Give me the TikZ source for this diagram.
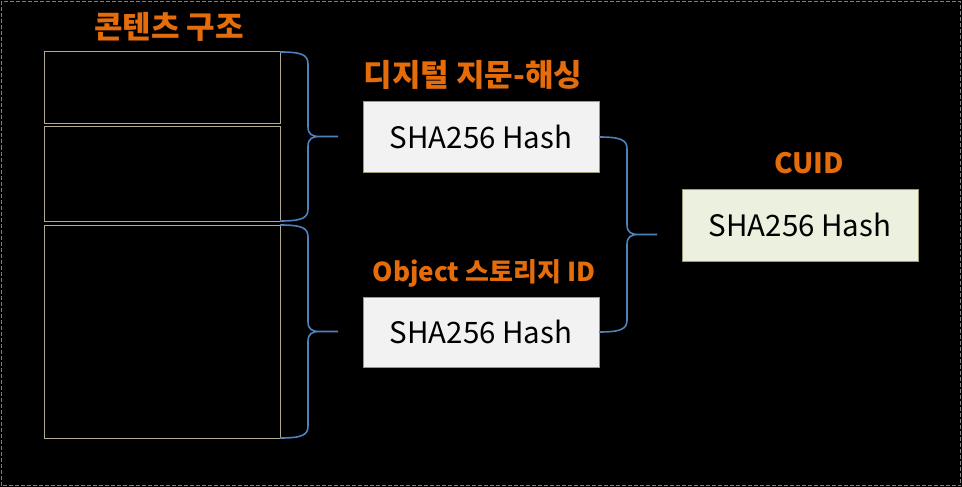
\documentclass[tikz,border=0pt]{standalone}
\usepackage{fontspec}
\newfontfamily\kor{Noto Sans CJK KR}
\usetikzlibrary{calc}
\definecolor{titleorange}{HTML}{E46C0A}
\definecolor{braceblue}{HTML}{4F81BD}
\definecolor{blockline}{HTML}{B0AA8E}
\definecolor{boxline}{HTML}{A09870}
\definecolor{boxgray}{HTML}{F2F2F2}
\definecolor{cuidgreen}{HTML}{EBF1DE}
\tikzset{
  block/.style={draw=blockline, line width=1pt, fill=black, anchor=north west,
    minimum width=236, inner sep=0, outer sep=0},
  hashbox/.style={draw=boxline, line width=1pt, fill=boxgray, minimum width=236,
    minimum height=70, outer sep=0, text=black,
    font=\kor\fontsize{29.5}{31}\selectfont},
  heading/.style={text=titleorange, inner sep=0,
    font=\kor\bfseries\fontsize{31}{33}\selectfont},
  curly/.style={draw=braceblue, line width=1.6pt, line join=round,
    to path={let \p1=(\tikztostart), \p2=(\tikztotarget), \n1={0.5*(\y1+\y2)} in
      (\p1) .. controls (\x1+22pt,\y1) and (\x1+28pt,\y1-3pt) .. (\x1+28pt,\y1-12pt)
      -- (\x1+28pt,\n1+10pt)
      .. controls (\x1+28pt,\n1+2pt) and (\x1+32pt,\n1) .. (\x1+40pt,\n1)
      -- (\x1+58pt,\n1)
      (\x1+40pt,\n1) .. controls (\x1+32pt,\n1) and (\x1+28pt,\n1-2pt) .. (\x1+28pt,\n1-10pt)
      -- (\x1+28pt,\y2+12pt)
      .. controls (\x1+28pt,\y2+3pt) and (\x1+22pt,\y2) .. (\p2)}}
}
\begin{document}
\begin{tikzpicture}[x=1pt,y=-1pt]
\useasboundingbox (0,0) rectangle (962,487);
\fill[black] (0,0) rectangle (962,487);
\draw[gray, line width=1.2pt, dash pattern=on 4pt off 2pt] (1.5,1.5) rectangle (960.5,485.5);

% content structure
\node[heading] (ctitle) at (169,27) {콘텐츠 구조};
\node[block, minimum height=71] (c1) at (44,52) {};
\node[block, minimum height=95] (c2) at (44,126) {};
\node[block, minimum height=213] (c3) at (44,225) {};

% hashes
\node[heading] (fptitle) at (473,75) {디지털 지문-해싱};
\node[hashbox] (h1) at (481,137) {SHA256 Hash};
\node[heading, font=\kor\bfseries\fontsize{26}{28}\selectfont] (objtitle) at (484,273) {Object 스토리지 ID};
\node[hashbox] (h2) at (481,332) {SHA256 Hash};

% cuid
\node[heading, font=\kor\bfseries\fontsize{28}{30}\selectfont] (cuidtitle) at (809,163) {CUID};
\node[hashbox, fill=cuidgreen, minimum height=72] (cuid) at (800,225) {SHA256 Hash};

% braces
\draw[curly] (c1.north east) to (c2.south east);
\draw[curly] (c3.north east) to (c3.south east);
\draw[curly] (h1.east) to (h2.east);
\end{tikzpicture}
\end{document}
